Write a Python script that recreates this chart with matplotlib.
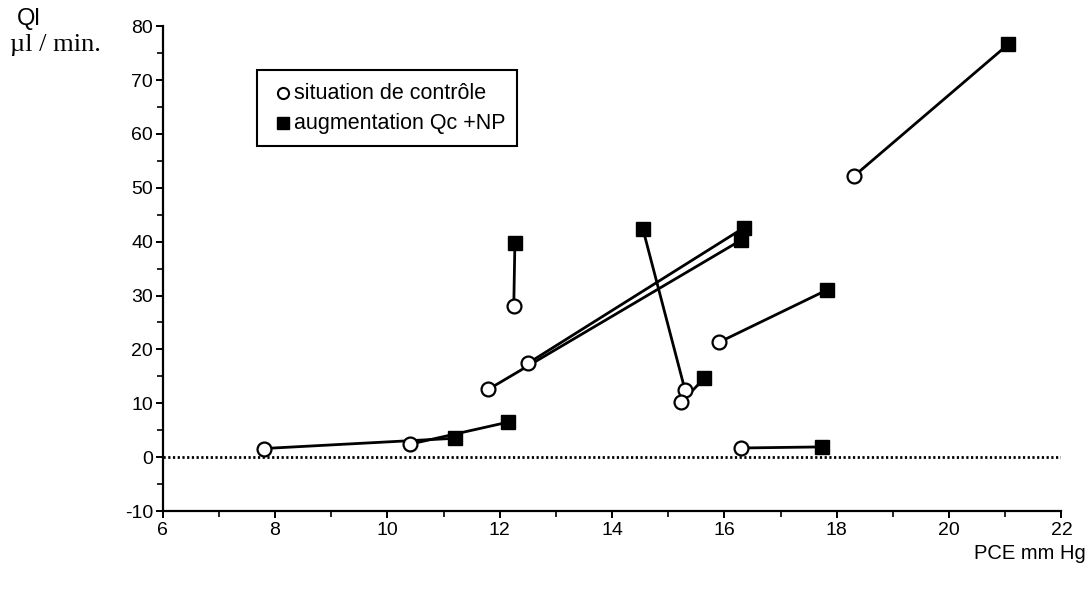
import numpy as np
import matplotlib.pyplot as plt
from matplotlib.patches import Rectangle

# paires : situation de contrôle (cercle) -> augmentation Qc +NP (carré)
pce_ctrl = [7.8, 10.4, 12.25, 11.8, 12.5, 15.3, 15.23, 15.9, 16.3, 18.3]
ql_ctrl = [1.6, 2.4, 28.0, 12.6, 17.4, 12.4, 10.2, 21.3, 1.7, 52.1]
pce_aug = [11.2, 12.15, 12.27, 16.3, 16.35, 14.55, 15.64, 17.82, 17.73, 21.05]
ql_aug = [3.5, 6.5, 39.7, 40.3, 42.6, 42.3, 14.6, 31.0, 1.9, 76.6]

legend_labels = ['situation de contrôle', 'augmentation Qc +NP']

plt.rcParams['font.family'] = ['Liberation Sans', 'DejaVu Sans']
plt.rcParams['axes.unicode_minus'] = False

fig = plt.figure(figsize=(10.92, 5.94), dpi=100)
ax = fig.add_axes([0.149, 0.1397, 0.823, 0.8163])

# ligne zéro pointillée
ax.plot([6, 22], [0, 0], color='black', lw=2, linestyle=(0, (0.8, 0.9)), zorder=1)

for xc, yc, xa, ya in zip(pce_ctrl, ql_ctrl, pce_aug, ql_aug):
    ax.plot([xc, xa], [yc, ya], color='black', lw=2, zorder=2)

ax.plot(pce_ctrl, ql_ctrl, 'o', ms=10, mfc='white', mec='black', mew=1.6, zorder=3)
ax.plot(pce_aug, ql_aug, 's', ms=10, mfc='black', mec='black', zorder=3)

ax.set_xlim(6, 22)
ax.set_ylim(-10, 80)
ax.set_xticks(np.arange(6, 23, 2))
ax.set_xticks(np.arange(7, 22, 2), minor=True)
ax.set_yticks(np.arange(-10, 81, 10))
ax.set_yticks(np.arange(-5, 80, 10), minor=True)
ax.spines['top'].set_visible(False)
ax.spines['right'].set_visible(False)
ax.spines['left'].set_linewidth(1.6)
ax.spines['bottom'].set_linewidth(1.6)
ax.tick_params(which='major', length=5, width=1.4, labelsize=14)
ax.tick_params(which='minor', length=4, width=1.2)
ax.tick_params(axis='y', pad=2)
ax.tick_params(axis='x', pad=3)

# cadre de légende dessiné à la main
ax.add_patch(Rectangle((0.1047, 0.7526), 0.2895, 0.1567, transform=ax.transAxes,
                       fill=False, edgecolor='black', lw=1.5, zorder=4))
ax.plot([0.1336], [0.8619], 'o', ms=8, mfc='white', mec='black', mew=1.5,
        transform=ax.transAxes, clip_on=False, zorder=5)
ax.plot([0.1336], [0.80], 's', ms=9, mfc='black', mec='black',
        transform=ax.transAxes, clip_on=False, zorder=5)
ax.text(0.146, 0.8619, legend_labels[0], transform=ax.transAxes, fontsize=15.5,
        ha='left', va='center')
ax.text(0.146, 0.80, legend_labels[1], transform=ax.transAxes, fontsize=15.5,
        ha='left', va='center')

fig.text(0.015, 0.968, 'Ql', fontsize=17, ha='left', va='center')
fig.text(0.009, 0.924, 'µl / min.', fontsize=19, ha='left', va='center',
         family=['Liberation Serif', 'DejaVu Serif'])
fig.text(0.994, 0.068, 'PCE mm Hg', fontsize=14.5, ha='right', va='center')

fig.savefig('out.png', dpi=100)
